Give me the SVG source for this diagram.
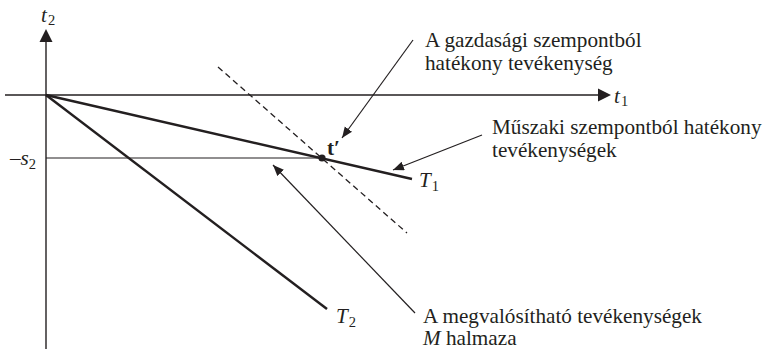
<svg xmlns="http://www.w3.org/2000/svg" width="766" height="349" viewBox="0 0 766 349" font-family="'Liberation Serif', Tinos, 'Times New Roman', 'DejaVu Serif', serif">
<style>
text{font-family:"Liberation Serif",Tinos,"Times New Roman","DejaVu Serif",serif;fill:#231f20}
.lbl{font-size:21.2px}
.it{font-style:italic}
.sub{font-size:14.5px;font-style:normal}
.ax{stroke:#231f20;stroke-width:1.4;fill:none}
.thick{stroke:#231f20;stroke-width:2.4;fill:none}
.thin{stroke:#231f20;stroke-width:1.2;fill:none}
.dash{stroke:#231f20;stroke-width:1.3;stroke-dasharray:6 4;fill:none}
</style>
<defs>
<marker id="ah" markerWidth="12" markerHeight="10" refX="11" refY="4.5" orient="auto" markerUnits="userSpaceOnUse">
<path d="M0,0 L11,4.5 L0,9 Z" fill="#231f20"/>
</marker>
</defs>
<rect width="766" height="349" fill="#ffffff"/>
<g id="axes">
<line class="ax" x1="46" y1="349" x2="46" y2="40"/>
<path d="M46,29 L52.5,42 L39.5,42 Z" fill="#231f20"/>
<line class="ax" x1="5" y1="95" x2="600" y2="95"/>
<path d="M611,95 L598,88.5 L598,101.5 Z" fill="#231f20"/>
<text class="lbl it" x="41" y="22">t<tspan class="sub" dx="1" dy="3">2</tspan></text>
<text class="lbl it" x="614" y="103">t<tspan class="sub" dx="1" dy="3">1</tspan></text>
</g>
<g id="s2-level">
<line class="thin" x1="46" y1="158" x2="322" y2="158"/>
<text class="lbl" x="10" y="165">–<tspan class="it">s</tspan><tspan class="sub" dy="4">2</tspan></text>
</g>
<g id="T1">
<line class="thick" x1="46" y1="95" x2="412" y2="179"/>
<text class="lbl it" x="419" y="187">T<tspan class="sub" dx="1" dy="4">1</tspan></text>
</g>
<g id="T2">
<line class="thick" x1="46" y1="95" x2="327" y2="309"/>
<text class="lbl it" x="336" y="323">T<tspan class="sub" dx="1" dy="4">2</tspan></text>
</g>
<g id="budget-line">
<line class="dash" x1="218" y1="67" x2="407" y2="233"/>
</g>
<g id="t-prime">
<circle cx="322" cy="158" r="3.6" fill="#231f20"/>
<text class="lbl" x="327" y="155" font-weight="bold">t′</text>
</g>
<g id="label-economic">
<text class="lbl" x="425" y="47">A gazdasági szempontból</text>
<text class="lbl" x="425" y="70">hatékony tevékenység</text>
</g>
<g id="label-technical">
<text class="lbl" x="492" y="134">Műszaki szempontból hatékony</text>
<text class="lbl" x="492" y="157">tevékenységek</text>
</g>
<g id="label-feasible">
<text class="lbl" x="423" y="323">A megvalósítható tevékenységek</text>
<text class="lbl" x="423" y="345"><tspan class="it">M</tspan> halmaza</text>
</g>
<g id="connectors">
<line class="thin" x1="413" y1="40" x2="342" y2="138" marker-end="url(#ah)"/>
<line class="thin" x1="482" y1="135" x2="393" y2="170" marker-end="url(#ah)"/>
<line class="thin" x1="415" y1="313" x2="273" y2="165" marker-end="url(#ah)"/>
</g>
</svg>
